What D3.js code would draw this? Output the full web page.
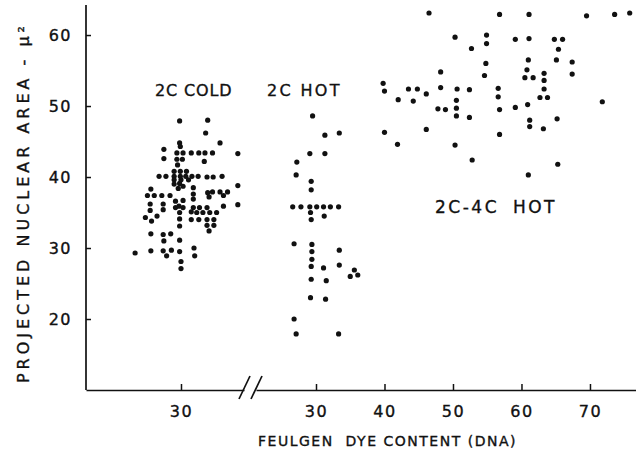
<!DOCTYPE html>
<html>
<head>
<meta charset="utf-8">
<script src="https://cdn.jsdelivr.net/npm/d3@7"></script>
<style>
  html, body { margin: 0; padding: 0; background: #fff; }
  svg { display: block; }
  text { font-family: "DejaVu Sans", sans-serif; fill: #111; }
</style>
</head>
<body>
<svg id="chart" width="636" height="467"></svg>
<script>
// ---------- DATA ----------
const yTicks = [20, 30, 40, 50, 60];
const xTicksLeft = [30];
const xTicksRight = [30, 40, 50, 60, 70];

// 2C COLD (left panel): DNA content, nuclear area
const coldX = [29.8,33.9,33.6,29.8,35.7,29.9,27.5,29.4,30.3,31.5,32.6,33.5,34.6,38.3,27.5,29.4,30.2,33.4,29.5,29.0,29.9,30.8,
  26.8,27.8,29.0,29.9,30.7,31.6,32.5,33.8,34.7,36.0,29.0,30.0,31.1,29.0,29.8,30.3,38.3,25.6,29.6,31.8,33.9,34.6,35.7,36.8,36.2,34.1,
  25.1,26.1,27.2,28.4,31.8,29.2,30.3,31.8,25.5,27.4,29.7,29.2,30.3,31.8,32.7,33.8,36.2,38.3,25.5,27.4,29.8,31.5,32.3,33.2,34.2,35.2,
  24.8,26.5,25.7,29.8,31.5,32.6,33.8,34.8,29.8,33.8,34.8,34.1,25.6,27.4,28.5,27.5,29.8,23.3,25.6,27.4,28.6,29.8,31.9,27.9,32.0,30.0,30.0];
const coldY = [47.9,48.0,46.2,44.8,44.8,44.3,43.9,43.4,43.4,43.4,43.4,43.4,43.4,43.3,42.6,42.5,42.5,42.2,41.7,40.8,40.8,40.8,
  40.1,40.1,40.1,40.1,40.1,40.1,40.1,40.0,40.0,40.1,39.6,39.6,39.6,39.0,39.1,38.7,38.8,38.3,38.4,38.5,37.8,37.9,37.9,37.9,37.4,37.2,
  37.4,37.4,37.4,37.4,37.6,36.6,36.7,36.9,36.2,36.2,35.9,35.7,35.7,35.7,35.7,35.7,35.9,36.1,35.3,35.4,35.0,35.1,35.0,35.0,35.0,35.0,
  34.3,34.5,33.8,34.1,34.0,34.0,34.0,34.0,33.1,33.2,33.2,32.4,32.0,31.9,32.0,31.0,31.1,29.3,29.6,29.6,29.7,29.5,30.0,28.9,28.9,28.1,27.1];

// 2C HOT (right panel)
const hotX = [29.5,31.3,33.4,29.1,31.3,27.2,27.1,29.3,29.3,26.6,27.8,29.1,30.1,31.1,32.1,33.3,29.2,31.2,29.3,
  26.8,29.4,29.4,33.4,29.4,29.3,31.1,33.4,35.6,35.0,36.1,29.3,31.5,29.2,31.4,26.8,27.1,33.3];
const hotY = [48.6,45.9,46.2,43.3,43.3,42.1,40.3,39.4,38.2,35.8,35.8,35.8,35.8,35.8,35.8,35.8,35.0,34.5,34.0,
  30.6,30.5,29.5,29.7,28.4,27.4,27.2,27.6,26.9,26.0,26.2,25.6,25.4,23.0,22.8,20.0,17.9,17.9];

// 2C-4C HOT (right panel)
const hot4X = [46.5,56.8,61.1,69.5,73.6,75.8,50.3,54.9,54.9,59.1,61.1,64.8,66.0,52.7,65.4,61.0,65.1,67.4,54.8,
  48.2,60.8,63.3,67.4,54.6,60.5,61.7,63.3,39.8,40.0,43.5,44.8,48.2,50.6,52.4,56.6,63.3,46.1,56.6,62.7,63.8,
  42.0,44.2,50.5,71.8,60.9,47.8,48.9,50.5,56.8,59.1,50.5,52.4,61.2,65.2,61.2,63.2,40.0,46.1,56.8,41.9,50.3,52.8,65.3,61.0];
const hot4Y = [63.1,62.9,62.9,62.7,62.9,63.1,59.7,60.0,58.8,59.4,59.5,59.4,59.4,58.1,58.0,56.5,56.5,56.2,56.0,
  54.8,55.1,54.6,54.5,54.3,54.0,54.0,53.6,53.2,52.1,52.4,52.4,52.6,52.4,52.3,52.5,52.4,51.7,51.3,51.2,51.2,
  50.9,50.7,50.8,50.6,50.2,49.6,49.5,49.7,49.5,49.8,48.6,48.4,48.0,48.2,47.1,46.8,46.3,46.7,46.0,44.6,44.5,42.4,41.8,40.3];

const groupLabels = ["2C COLD", "2C HOT", "2C-4C HOT"];
const xTitle = "FEULGEN  DYE CONTENT (DNA)";
const yTitle = "PROJECTED NUCLEAR AREA - μ²";

// ---------- CHART ----------
const svg = d3.select("#chart");
const yScale = d3.scaleLinear().domain([10, 64.23]).range([390, 5]);
const xLeft = d3.scaleLinear().domain([16.13, 39.2]).range([86, 244]);
const xRight = d3.scaleLinear().domain([21.24, 76.72]).range([256, 636]);

const ink = "#111";
const fontFam = "DejaVu Sans";

function styleText(sel, size, ls) {
  sel.attr("font-size", size).attr("letter-spacing", ls)
    .style("font-family", fontFam).attr("fill", ink)
    .attr("stroke", ink).attr("stroke-width", 0.35);
  return sel;
}

// Y axis
const gy = svg.append("g").attr("transform", "translate(86,0)")
  .call(d3.axisLeft(yScale).tickValues(yTicks).tickSize(-5).tickPadding(14).tickSizeOuter(0));
gy.select(".domain").remove();
gy.append("line").attr("x1", 0).attr("x2", 0).attr("y1", 5).attr("y2", 390)
  .attr("stroke", ink).attr("stroke-width", 1.7);
gy.selectAll(".tick line").attr("stroke", ink).attr("stroke-width", 1.5);
styleText(gy.selectAll(".tick text"), 16, 1.5);

// X axis left + right segments
const gxl = svg.append("g").attr("transform", "translate(0,390)")
  .call(d3.axisBottom(xLeft).tickValues(xTicksLeft).tickSize(-6).tickPadding(16).tickSizeOuter(0));
const gxr = svg.append("g").attr("transform", "translate(0,390)")
  .call(d3.axisBottom(xRight).tickValues(xTicksRight).tickSize(-6).tickPadding(16).tickSizeOuter(0));
[gxl, gxr].forEach(g => {
  g.select(".domain").attr("stroke", ink).attr("stroke-width", 1.7);
  g.selectAll(".tick line").attr("stroke", ink).attr("stroke-width", 1.5);
  styleText(g.selectAll(".tick text"), 16, 1.5);
});

// Break marks
const brk = svg.append("g").attr("stroke", ink).attr("stroke-width", 1.7);
brk.append("line").attr("x1", 239).attr("y1", 399).attr("x2", 250).attr("y2", 376);
brk.append("line").attr("x1", 251).attr("y1", 399).attr("x2", 262).attr("y2", 376);

// Points
const r = 2.6;
const plot = svg.append("g").attr("fill", ink);
plot.selectAll(".cold").data(d3.zip(coldX, coldY)).join("circle")
  .attr("cx", d => xLeft(d[0])).attr("cy", d => yScale(d[1])).attr("r", r);
plot.selectAll(".hot").data(d3.zip(hotX, hotY)).join("circle")
  .attr("cx", d => xRight(d[0])).attr("cy", d => yScale(d[1])).attr("r", r);
plot.selectAll(".hot4").data(d3.zip(hot4X, hot4Y)).join("circle")
  .attr("cx", d => xRight(d[0])).attr("cy", d => yScale(d[1])).attr("r", r);

// Group labels
const lab = svg.append("g");
styleText(lab.append("text").attr("x", 155).attr("y", 96)
  .attr("textLength", 78).attr("lengthAdjust", "spacing").text(groupLabels[0]), 16, 1.5);
styleText(lab.append("text").attr("x", 267).attr("y", 96)
  .attr("textLength", 74).attr("lengthAdjust", "spacing").text(groupLabels[1]), 16, 1.5);
styleText(lab.append("text").attr("x", 435).attr("y", 213)
  .attr("word-spacing", 6).text(groupLabels[2]), 17, 2.5);

// Axis titles
styleText(svg.append("text").attr("x", 258).attr("y", 446)
  .attr("textLength", 260).attr("lengthAdjust", "spacing")
  .style("white-space", "pre").text(xTitle), 14, 2.5);
styleText(svg.append("text").attr("transform", "translate(29,383) rotate(-90)")
  .attr("textLength", 361).attr("lengthAdjust", "spacing")
  .text(yTitle), 16, 4);
</script>
</body>
</html>
